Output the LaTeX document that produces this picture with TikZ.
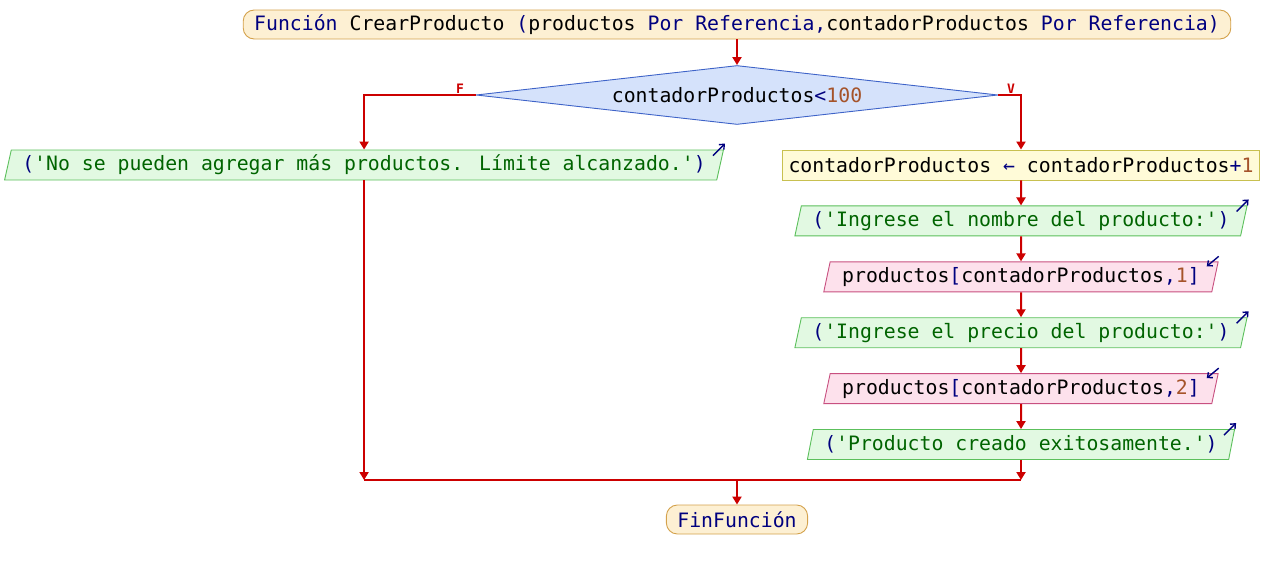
\documentclass[tikz,border=0pt]{standalone}
\usepackage{fontspec}
\newfontfamily\mono{DejaVu Sans Mono}
\usetikzlibrary{positioning,shapes.geometric,arrows.meta}

\definecolor{flechacol}{HTML}{CC0000}
\definecolor{kwcol}{HTML}{00007F}
\definecolor{numcol}{HTML}{A5532A}
\definecolor{strcol}{HTML}{006400}
\definecolor{termfill}{HTML}{FDF0D3}
\definecolor{termline}{HTML}{D4A24C}
\definecolor{decfill}{HTML}{D5E2FB}
\definecolor{decline}{HTML}{3E63C8}
\definecolor{asigfill}{HTML}{FFFBD8}
\definecolor{asigline}{HTML}{C8C050}
\definecolor{salfill}{HTML}{E2F9E2}
\definecolor{salline}{HTML}{5CC05C}
\definecolor{entfill}{HTML}{FDE1EC}
\definecolor{entline}{HTML}{C85080}

\newcommand{\letra}{\mono\fontsize{19.8}{24}\selectfont}
\newcommand{\kw}[1]{\textcolor{kwcol}{#1}}
\newcommand{\nm}[1]{\textcolor{numcol}{#1}}
\newcommand{\cad}[1]{\textcolor{strcol}{#1}}
\newcommand{\q}{\textquotesingle}

\begin{document}
\begin{tikzpicture}[
	x=1pt, y=-1pt,
	node distance=25pt and 25pt,
	flecha/.style={draw=flechacol, line width=2pt, -{Triangle[width=9pt,length=8pt]}},
	linea/.style={draw=flechacol, line width=2pt},
	terminal/.style={draw=termline, fill=termfill, line width=0.9pt, rounded corners=11pt, minimum height=29pt, inner xsep=11pt, inner ysep=0pt, font=\letra},
	decision/.style={diamond, aspect=8.85, draw=decline, fill=decfill, line width=0.9pt, minimum width=522pt, minimum height=59pt, inner sep=0pt, font=\letra},
	asigna/.style={draw=asigline, fill=asigfill, line width=0.9pt, minimum height=30pt, inner xsep=6pt, inner ysep=0pt, font=\letra},
	salida/.style={trapezium, trapezium left angle=71.6, trapezium right angle=108.4, trapezium stretches body=true, draw=salline, fill=salfill, line width=0.9pt, minimum height=30pt, inner xsep=11pt, inner ysep=0pt, font=\letra},
	entrada/.style={salida, draw=entline, fill=entfill, inner xsep=12pt},
	icono/.style={draw=kwcol, line width=1.4pt, -{Straight Barb[length=4pt,width=7pt]}},
	etiqueta/.style={text=flechacol, font=\mono\bfseries\fontsize{13}{14}\selectfont, inner sep=1pt}
	]
	\useasboundingbox (0,0) rectangle (1272,570);
	\node[terminal] (inicio) at (737,24.5) {\kw{Función} CrearProducto \kw{(}productos \kw{Por Referencia,}contadorProductos \kw{Por Referencia)}};
	\node[decision] (cond) at (737,95) {contadorProductos\kw{<}\nm{100}};
	\node[salida] (nolimite) at (364,165) {\kw{(}\cad{\q No se pueden agregar más productos. Límite alcanzado.\q}\kw{)}};
	\node[asigna] (incr) at (1021,165) {contadorProductos \kw{←} contadorProductos\kw{+}\nm{1}};
	\node[salida, below=of incr] (pidenombre) {\kw{(}\cad{\q Ingrese el nombre del producto:\q}\kw{)}};
	\node[entrada, below=of pidenombre] (leenombre) {productos\kw{[}contadorProductos\kw{,}\nm{1}\kw{]}};
	\node[salida, below=of leenombre] (pideprecio) {\kw{(}\cad{\q Ingrese el precio del producto:\q}\kw{)}};
	\node[entrada, below=of pideprecio] (leeprecio) {productos\kw{[}contadorProductos\kw{,}\nm{2}\kw{]}};
	\node[salida, below=of leeprecio] (exito) {\kw{(}\cad{\q Producto creado exitosamente.\q}\kw{)}};
	\node[terminal] (fin) at (737,519.5) {\kw{FinFunción}};
	\coordinate (union) at (737,480);
	% flechas
	\draw[flecha] (inicio) -- (cond);
	\draw[flecha] (cond.west) -| node[etiqueta, above, pos=0.07] {F} (nolimite.north);
	\draw[flecha] (cond.east) -| node[etiqueta, above, pos=0.28] {V} (incr.north);
	\draw[flecha] (incr) -- (pidenombre);
	\draw[flecha] (pidenombre) -- (leenombre);
	\draw[flecha] (leenombre) -- (pideprecio);
	\draw[flecha] (pideprecio) -- (leeprecio);
	\draw[flecha] (leeprecio) -- (exito);
	\draw[flecha] (nolimite.south) -- (nolimite.south |- union);
	\draw[flecha] (exito.south) -- (exito.south |- union);
	\draw[linea] (nolimite.south |- union) -- (exito.south |- union);
	\draw[flecha] (union) -- (fin);
	% iconos de entrada y salida
	\draw[icono] ([shift={(-11,6)}]nolimite.top right corner) -- ++(12,-12);
	\draw[icono] ([shift={(-11,6)}]pidenombre.top right corner) -- ++(12,-12);
	\draw[icono] ([shift={(-11,6)}]pideprecio.top right corner) -- ++(12,-12);
	\draw[icono] ([shift={(-11,6)}]exito.top right corner) -- ++(12,-12);
	\draw[icono] ([shift={(0,-5)}]leenombre.top right corner) -- ++(-12,10);
	\draw[icono] ([shift={(0,-5)}]leeprecio.top right corner) -- ++(-12,10);
\end{tikzpicture}
\end{document}
